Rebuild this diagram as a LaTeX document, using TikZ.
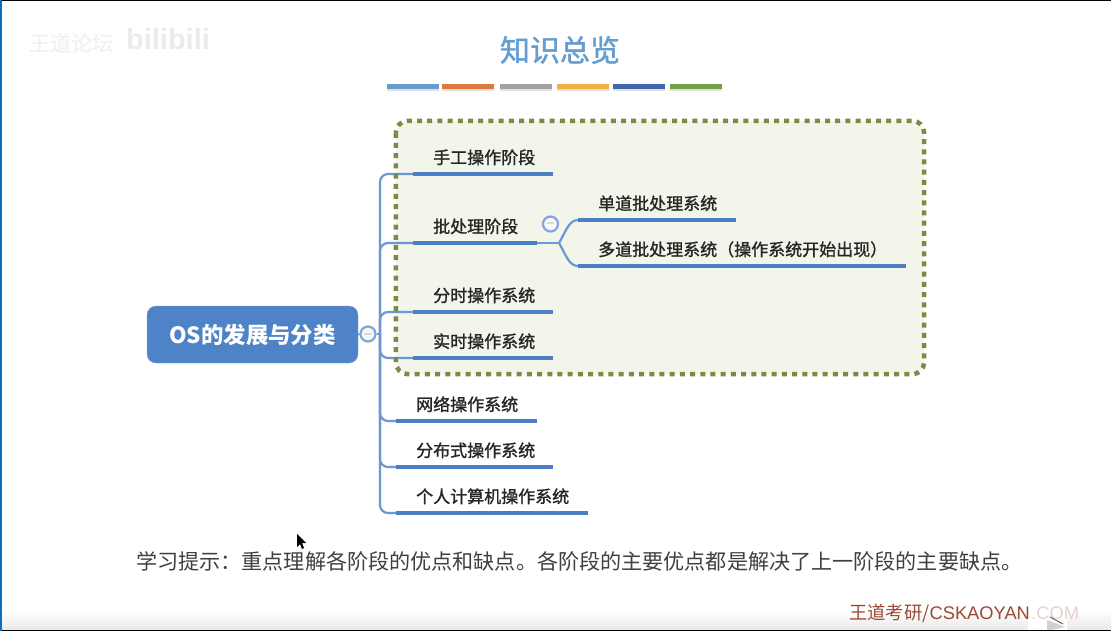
\documentclass[tikz,border=0pt]{standalone}
\usepackage{fontspec}
\usepackage{xcolor}
\setmainfont{Noto Sans CJK SC}
\newfontfamily\latinfont{Liberation Sans}
\newfontfamily\topicfont[FakeBold=1.3]{Noto Sans CJK SC}
\usetikzlibrary{calc}
\definecolor{rootblue}{HTML}{4F83C8}
\definecolor{branchblue}{HTML}{6B97D3}
\definecolor{lineblue}{HTML}{4A7FC6}
\definecolor{titleblue}{HTML}{659DD0}
\definecolor{boxolive}{HTML}{7B8A45}
\definecolor{boxfill}{HTML}{F3F5EA}
\definecolor{footred}{HTML}{9A4A32}
\definecolor{edgeblue}{HTML}{0A6FC2}
\tikzset{
    topic/.style={anchor=south west,inner xsep=20pt,inner ysep=0pt,text depth=10pt,text height=15pt,align=left,font=\topicfont\fontsize{17}{17}\selectfont,text=black!85},
    topicline/.style={line width=4.8pt,draw=lineblue},
    branch/.style={line width=2.2pt,draw=branchblue,rounded corners=8pt},
    toggle/.style={circle,draw=branchblue!85,line width=2.2pt,fill=black!3,minimum size=15pt,inner sep=0pt,font=\fontsize{12}{12}\selectfont,text=black!55},
}
\begin{document}
\begin{tikzpicture}[x=1pt,y=-1pt]
    \useasboundingbox (0,0) rectangle (1111,631);
    \fill[white] (0,0) rectangle (1111,631);
    \shade[top color=white,bottom color=black!9] (0,610) rectangle (1111,631);

    \node[text=black!5,font=\topicfont\fontsize{21}{21}\selectfont] (wmforum) at (71,43) {王道论坛};
    \node[text=black!8,font=\latinfont\fontsize{29}{29}\selectfont\bfseries] (wmbili) at (168,39) {bilibili};

    \node[font=\fontsize{30}{30}\selectfont,text=titleblue] (title) at (560,50) {\topicfont 知识总览};
    \foreach \x/\c in {387/6A9BD0,442/DC7B3F,500/A3A3A3,557/F0B040,613/3F68A8,670/719F47}{
        \definecolor{barcolor}{HTML}{\c}
        \fill[black!12] (\x,87) rectangle ++(52,4);
        \fill[barcolor] (\x,84) rectangle ++(52,5);
    }

    \node[fill=boxfill,rounded corners=12pt,minimum width=528pt,minimum height=253pt,inner sep=0pt] (okbox) at (660,247.5) {};

    \node[rectangle,rounded corners=9pt,fill=rootblue,draw=rootblue!70,minimum width=211pt,minimum height=57pt,text=white,font=\fontsize{22.4}{23}\selectfont\bfseries] (root) at (252.5,334.5) {OS的发展与分类};
    \node[toggle] (roottoggle) at (368,334) {$-$};
    \coordinate (hub) at (380,334);

    \node[topic,text width=100pt] (t1) at (413,174) {手工操作阶段};
    \node[topic,text width=84pt] (t2) at (413,243) {批处理阶段};
    \node[topic,text width=100pt] (t3) at (413,312) {分时操作系统};
    \node[topic,text width=100pt] (t4) at (413,358) {实时操作系统};
    \node[topic,text width=101pt] (t5) at (396,421) {网络操作系统};
    \node[topic,text width=117pt] (t6) at (396,467) {分布式操作系统};
    \node[topic,text width=152pt] (t7) at (396,513) {个人计算机操作系统};
    \node[topic,text width=118pt] (s1) at (578,220) {单道批处理系统};
    \node[topic,text width=288pt] (s2) at (578,266) {多道批处理系统（操作系统开始出现）};
    \node[toggle] (subtoggle) at (550.5,224) {$-$};
    \coordinate (subhub) at (559,243);

    \draw[branch] (root.east) -- (roottoggle.west);
    \draw[branch] (roottoggle.east) -- (hub);
    \foreach \n in {t1,t2,t3,t4,t5,t6,t7}{
        \draw[branch] (hub) |- (\n.south west);
        \draw[topicline] (\n.south west) -- (\n.south east);
    }
    \draw[branch] (t2.south east) -- (subhub);
    \draw[line width=2.2pt,draw=branchblue] (subhub) .. controls (566,231) and (569,220) .. (s1.south west);
    \draw[line width=2.2pt,draw=branchblue] (subhub) .. controls (566,255) and (569,266) .. (s2.south west);
    \draw[topicline] (s1.south west) -- (s1.south east);
    \draw[topicline] (s2.south west) -- (s2.south east);

    \draw[draw=boxolive,line width=4.5pt,dash pattern=on 5pt off 5.2pt,rounded corners=12pt] (okbox.north west) rectangle (okbox.south east);

    \node[anchor=west,inner sep=0pt,text=black!75,font=\fontsize{21.1}{21}\selectfont] (hint) at (136,561) {学习提示：重点理解各阶段的优点和缺点。各阶段的主要优点都是解决了上一阶段的主要缺点。};
    \fill[black] (297,534) -- (297,547) -- (300,544) -- (302,549) -- (304,548) -- (302,543) -- (306,543) -- cycle;

    \fill[white,rounded corners=4pt] (1028,606) rectangle (1067,640);
    \draw[white,line width=3.5pt,line cap=round] (1048,604) -- (1043,598);
    \draw[white,line width=3.5pt,line cap=round] (1059,604) -- (1064,598);
    \node[anchor=west,inner sep=0pt,text=footred,font=\fontsize{18.3}{18}\selectfont] (foot) at (849,613) {王道考研/{\latinfont CSKAOYAN}};
    \node[anchor=west,inner sep=0pt,text=footred!25,font=\latinfont\fontsize{18.3}{18}\selectfont] (footcom) at (1031,613) {.COM};
    \fill[black!18] (1047,620) -- (1065,627) -- (1047,631) -- cycle;
    \draw[black!60,line width=1pt] (1050,617) -- (1063,624);

    \draw[black,line width=1.2pt] (0,0.6) -- (1111,0.6);
    \draw[black,line width=1.2pt] (0,630.4) -- (1111,630.4);
    \draw[edgeblue,line width=1.6pt] (0.8,0) -- (0.8,631);
\end{tikzpicture}
\end{document}
